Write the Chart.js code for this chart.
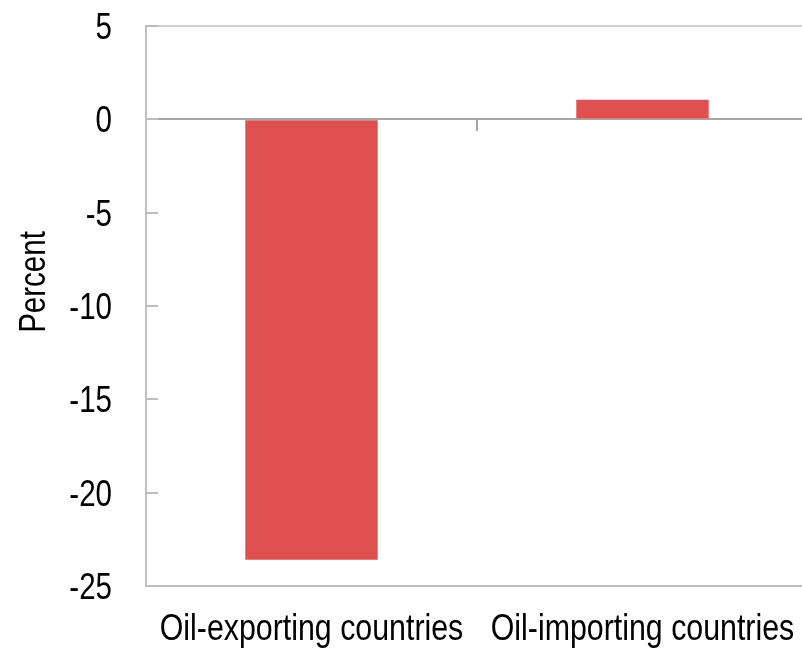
<!DOCTYPE html>
<html>
<head>
<meta charset="utf-8">
<script src="https://cdn.jsdelivr.net/npm/chart.js@4/dist/chart.umd.min.js"></script>
<style>
  html, body { margin: 0; padding: 0; background: #ffffff; overflow: hidden; }
  #wrap { width: 802px; height: 650px; overflow: hidden; position: relative; }
  canvas { display: block; }
</style>
</head>
<body>
<div id="wrap"><canvas id="chart" width="808" height="650" style="width:808px;height:650px"></canvas></div>
<script>
// Change in value, percent
const categories = ['Oil-exporting countries', 'Oil-importing countries'];
const changeValues = [-23.6, 1.05];
const yTicks = [5, 0, -5, -10, -15, -20, -25];
const yTitle = 'Percent';

const FONT = "'Liberation Sans', Arial, sans-serif";
const TEXT_SIZE = 36;
const CATEGORY_SIZE = 37;
const NARROW = 0.82;   // horizontal squeeze for a narrow sans look
const BAR_RED = '#de514f';

// Draw text squeezed horizontally around its anchor point
function narrowText(ctx, text, x, y, align, rotate) {
  ctx.save();
  ctx.translate(x, y);
  if (rotate) ctx.rotate(rotate);
  ctx.scale(NARROW, 1);
  ctx.textAlign = align;
  ctx.textBaseline = 'alphabetic';
  ctx.fillText(text, 0, 0);
  ctx.restore();
}

// Tick labels, inward ticks, zero-line separator tick and the axis title
const axisDecor = {
  id: 'axisDecor',
  afterDraw(chart) {
    const { ctx, chartArea, scales } = chart;
    const y = scales.y, x = scales.x;
    ctx.save();
    ctx.strokeStyle = '#bdbdbd';
    ctx.lineWidth = 2;
    y.ticks.forEach(t => {
      const py = Math.round(y.getPixelForValue(t.value));
      ctx.beginPath();
      ctx.moveTo(chartArea.left, py);
      ctx.lineTo(chartArea.left + 12, py);
      ctx.stroke();
    });
    const sepX = Math.round((x.getPixelForValue(0) + x.getPixelForValue(1)) / 2);
    const zeroY = Math.round(y.getPixelForValue(0));
    ctx.strokeStyle = '#a6a6a6';
    ctx.beginPath();
    ctx.moveTo(sepX, zeroY);
    ctx.lineTo(sepX, zeroY + 12);
    ctx.stroke();

    ctx.fillStyle = '#000000';
    ctx.font = TEXT_SIZE + 'px ' + FONT;
    y.ticks.forEach(t => {
      narrowText(ctx, String(t.value), chartArea.left - 34, y.getPixelForValue(t.value) + 13, 'right');
    });
    const midY = (chartArea.top + chartArea.bottom) / 2 - 24;
    narrowText(ctx, yTitle, 45, midY, 'center', -Math.PI / 2);
    ctx.font = CATEGORY_SIZE + 'px ' + FONT;
    categories.forEach((c, i) => {
      narrowText(ctx, c, x.getPixelForValue(i), chartArea.bottom + 54, 'center');
    });
    ctx.restore();
  }
};

new Chart(document.getElementById('chart'), {
  type: 'bar',
  data: {
    labels: categories,
    datasets: [{
      data: changeValues,
      backgroundColor: BAR_RED,
      borderWidth: 0,
      barPercentage: 0.4,
      categoryPercentage: 1
    }]
  },
  options: {
    responsive: false,
    animation: false,
    devicePixelRatio: 1,
    layout: { padding: { top: 26, right: 0, left: 0, bottom: 0 } },
    plugins: { legend: { display: false }, tooltip: { enabled: false } },
    scales: {
      x: {
        grid: { display: false, drawTicks: false },
        border: { display: true, color: '#c0c0c0', width: 2 },
        ticks: { display: false },
        afterFit(scale) { scale.height = 64; }
      },
      y: {
        min: -25,
        max: 5,
        z: 1,
        afterBuildTicks(scale) { scale.ticks = yTicks.map(v => ({ value: v })); },
        ticks: { display: false },
        grid: {
          drawTicks: false,
          lineWidth: 2,
          color(ctx) {
            if (!ctx.tick) return 'rgba(0,0,0,0)';
            if (ctx.tick.value === 0) return '#a6a6a6';
            if (ctx.tick.value === 5) return '#d0d0d0';
            return 'rgba(0,0,0,0)';
          }
        },
        border: { display: true, color: '#c0c0c0', width: 2 },
        afterFit(scale) { scale.width = 146; }
      }
    }
  },
  plugins: [axisDecor]
});
</script>
</body>
</html>
